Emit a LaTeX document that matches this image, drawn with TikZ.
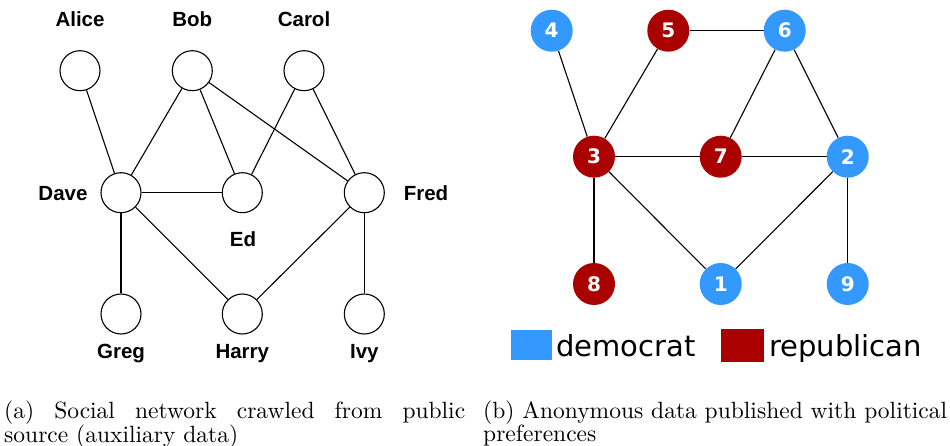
\documentclass[tikz,border=0pt]{standalone}
\usepackage{fontspec}
\newfontfamily\lsans{Liberation Sans}
\newfontfamily\dvs{DejaVu Sans}
\newfontfamily\capfont{lmroman10-regular}[Extension=.otf]
\definecolor{dem}{RGB}{51,153,255}
\definecolor{rep}{RGB}{170,0,0}
\begin{document}
\begin{tikzpicture}[x=1pt,y=-1pt,
  person/.style={circle,draw=black,line width=1.1pt,minimum size=40pt,inner sep=0pt},
  pname/.style={font=\lsans\bfseries\fontsize{20.5}{24}\selectfont,inner sep=0pt,anchor=base},
  vote/.style={circle,minimum size=42pt,inner sep=0pt,text=white,font=\dvs\bfseries\fontsize{20}{24}\selectfont},
  demv/.style={vote,fill=dem},
  repv/.style={vote,fill=rep},
  edge/.style={line width=1.1pt,black},
  legtext/.style={font=\dvs\fontsize{29}{34}\selectfont,inner sep=0pt,anchor=base west},
  captext/.style={inner sep=0pt,anchor=base west,font=\capfont\fontsize{23.5}{20.5}\selectfont}]
\useasboundingbox (0,0) rectangle (950,446);
% ---- left graph
\node[person] (alice) at (80,70.7) {};
\node[person] (bob) at (192.3,70.7) {};
\node[person] (carol) at (304,70.7) {};
\node[person] (dave) at (121,192.7) {};
\node[person] (ed) at (242.3,192.7) {};
\node[person] (fred) at (364.3,192.7) {};
\node[person] (greg) at (121,314) {};
\node[person] (harry) at (242.3,314) {};
\node[person] (ivy) at (364.3,314) {};
\node[pname] (lalice) at (80,27) {Alice};
\node[pname] (lbob) at (192.3,27) {Bob};
\node[pname] (lcarol) at (304,27) {Carol};
\node[pname] (ldave) at (63,200.5) {Dave};
\node[pname] (lfred) at (426,200.5) {Fred};
\node[pname] (led) at (243,246.5) {Ed};
\node[pname] (lgreg) at (121,358.3) {Greg};
\node[pname] (lharry) at (242.3,358.3) {Harry};
\node[pname] (livy) at (364.3,358.3) {Ivy};
\draw[edge] (alice) -- (dave);
\draw[edge] (bob) -- (dave);
\draw[edge] (bob) -- (ed);
\draw[edge] (bob) -- (fred);
\draw[edge] (carol) -- (ed);
\draw[edge] (carol) -- (fred);
\draw[edge] (dave) -- (ed);
\draw[edge] (dave) -- (greg);
\draw[edge] (dave) -- (harry);
\draw[edge] (fred) -- (harry);
\draw[edge] (fred) -- (ivy);
% ---- right graph
\node[demv] (n4) at (551.7,30.7) {4};
\node[repv] (n5) at (668.3,30.7) {5};
\node[demv] (n6) at (784.7,30.7) {6};
\node[repv] (n3) at (594,156.7) {3};
\node[repv] (n7) at (720.7,156.7) {7};
\node[demv] (n2) at (847.7,156.7) {2};
\node[repv] (n8) at (594,284) {8};
\node[demv] (n1) at (720.7,284) {1};
\node[demv] (n9) at (847.7,284) {9};
\draw[edge] (n4) -- (n3);
\draw[edge] (n5) -- (n3);
\draw[edge] (n5) -- (n6);
\draw[edge] (n6) -- (n7);
\draw[edge] (n6) -- (n2);
\draw[edge] (n3) -- (n7);
\draw[edge] (n7) -- (n2);
\draw[edge] (n3) -- (n8);
\draw[edge] (n3) -- (n1);
\draw[edge] (n2) -- (n1);
\draw[edge] (n2) -- (n9);
% ---- legend
\fill[dem] (511,330) rectangle (551.7,360);
\fill[rep] (721,329.3) rectangle (763.5,362);
\node[legtext] (ldem) at (556,356) {democrat};
\node[legtext] (lrep) at (769,356) {republican};
% ---- captions
\node[captext] (capa) at (4,418) {\parbox[t]{461pt}{(a) Social network crawled from public\linebreak source (auxiliary data)}};
\node[captext] (capb) at (483,418) {\parbox[t]{464pt}{(b) Anonymous data published with political\linebreak preferences}};
\end{tikzpicture}
\end{document}
